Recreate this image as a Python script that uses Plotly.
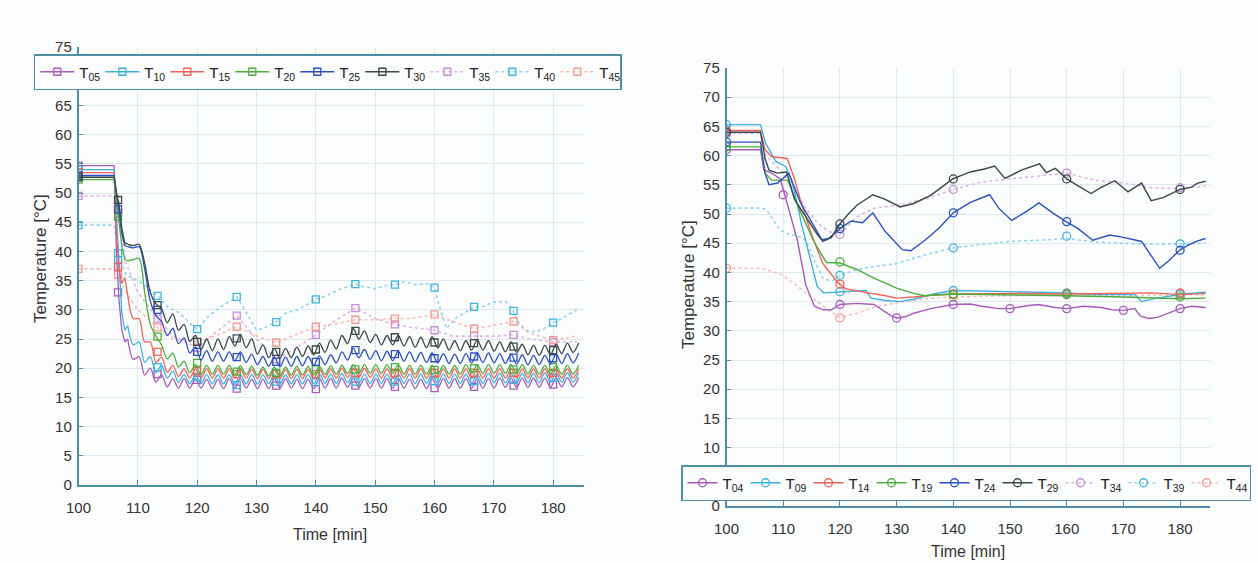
import plotly.graph_objects as go

# ======================= DATA =======================
# ---------- Left panel: sensors T05 ... T45 ----------
left_time = [100, 106.0, 106.4, 106.8, 107.3, 107.8,
             108.3, 109.25, 110.2, 111.15, 112.1, 113.05, 114.0, 114.95, 115.9, 116.85,
             117.8, 118.75, 119.7, 120.65, 121.6, 122.55, 123.5, 124.45, 125.4, 126.35,
             127.3, 128.25, 129.2, 130.15, 131.1, 132.05, 133.0, 133.95, 134.9, 135.85,
             136.8, 137.75, 138.7, 139.65, 140.6, 141.55, 142.5, 143.45, 144.4, 145.35,
             146.3, 147.25, 148.2, 149.15, 150.1, 151.05, 152.0, 152.95, 153.9, 154.85,
             155.8, 156.75, 157.7, 158.65, 159.6, 160.55, 161.5, 162.45, 163.4, 164.35,
             165.3, 166.25, 167.2, 168.15, 169.1, 170.05, 171.0, 171.95, 172.9, 173.85,
             174.8, 175.75, 176.7, 177.65, 178.6, 179.55, 180.5, 181.45, 182.4, 183.35,
             184.3]

T05 = [54.7, 54.7, 40.0, 32.0, 26.5, 24.5,
       25.0, 21.5, 22.0, 18.8, 20.0, 17.6, 18.9, 16.8, 18.2, 16.6,
       18.2, 16.6, 18.2, 16.6, 18.1, 16.5, 18.1, 16.5, 18.2, 16.6,
       18.2, 16.6, 18.1, 16.5, 18.1, 16.5, 18.2, 16.6, 18.2, 16.6,
       18.1, 16.5, 18.1, 16.5, 18.2, 16.6, 18.2, 16.6, 18.3, 16.7,
       18.3, 16.7, 18.2, 16.6, 18.2, 16.6, 18.2, 16.6, 18.2, 16.6,
       18.1, 16.5, 18.1, 16.5, 18.2, 16.6, 18.2, 16.6, 18.2, 16.6,
       18.2, 16.6, 18.2, 16.6, 18.2, 16.6, 18.3, 16.7, 18.3, 16.7,
       18.3, 16.7, 18.3, 16.7, 18.3, 16.7, 18.4, 16.8, 18.4, 16.8,
       18.4]

T10 = [54.0, 54.0, 46.0, 38.5, 29.5, 26.5,
       27.3, 24.0, 24.5, 21.0, 22.0, 19.2, 20.5, 18.3, 19.5, 17.6,
       18.9, 17.3, 18.9, 17.3, 18.9, 17.3, 18.9, 17.3, 18.9, 17.3,
       18.9, 17.3, 18.9, 17.3, 18.9, 17.3, 18.9, 17.3, 18.9, 17.3,
       18.9, 17.3, 18.9, 17.3, 19.0, 17.4, 19.0, 17.4, 19.1, 17.5,
       19.1, 17.5, 19.0, 17.4, 19.0, 17.4, 19.0, 17.4, 19.0, 17.4,
       19.0, 17.4, 19.0, 17.4, 19.0, 17.4, 19.0, 17.4, 19.0, 17.4,
       19.0, 17.4, 19.0, 17.4, 19.1, 17.5, 19.1, 17.5, 19.1, 17.5,
       19.1, 17.5, 19.1, 17.5, 19.2, 17.6, 19.2, 17.6, 19.2, 17.6,
       19.2]

T15 = [53.5, 53.5, 43.0, 37.2, 34.5, 35.5,
       32.5, 28.5, 28.5, 24.5, 24.5, 21.0, 21.9, 19.3, 20.5, 18.6,
       19.9, 18.3, 19.9, 18.3, 19.9, 18.3, 19.9, 18.3, 19.9, 18.3,
       19.9, 18.3, 19.8, 18.2, 19.8, 18.2, 19.8, 18.2, 19.8, 18.2,
       19.8, 18.2, 19.8, 18.2, 19.9, 18.3, 19.9, 18.3, 20.0, 18.4,
       20.0, 18.4, 20.0, 18.4, 19.9, 18.3, 19.9, 18.3, 19.9, 18.3,
       19.9, 18.3, 19.9, 18.3, 19.9, 18.3, 19.9, 18.3, 19.9, 18.3,
       19.9, 18.3, 19.9, 18.3, 19.9, 18.3, 19.9, 18.3, 19.9, 18.3,
       19.9, 18.3, 19.9, 18.3, 19.9, 18.3, 19.9, 18.3, 19.9, 18.3,
       19.9]

T20 = [52.3, 52.3, 48.5, 45.5, 41.0, 38.6,
       38.4, 38.6, 38.8, 33.0, 27.5, 25.5, 24.0, 21.6, 22.6, 20.2,
       21.2, 19.2, 20.6, 19.0, 20.5, 19.0, 20.5, 19.0, 20.5, 19.0,
       20.4, 18.9, 20.3, 18.8, 20.2, 18.7, 20.2, 18.7, 20.2, 18.8,
       20.3, 18.8, 20.3, 18.8, 20.3, 18.9, 20.4, 19.0, 20.5, 19.1,
       20.6, 19.1, 20.6, 19.1, 20.6, 19.1, 20.6, 19.1, 20.6, 19.0,
       20.5, 19.0, 20.5, 19.0, 20.5, 19.0, 20.5, 19.0, 20.5, 19.0,
       20.6, 19.1, 20.6, 19.1, 20.6, 19.1, 20.6, 19.1, 20.6, 19.1,
       20.6, 19.0, 20.5, 19.0, 20.5, 19.0, 20.5, 19.0, 20.5, 19.0,
       20.5]

T25 = [53.0, 53.0, 50.0, 47.2, 43.0, 41.0,
       40.8, 40.6, 40.8, 37.0, 31.5, 29.0, 28.0, 25.6, 26.8, 24.2,
       25.2, 22.6, 23.6, 21.4, 23.0, 21.2, 22.8, 21.2, 22.8, 21.3,
       22.8, 21.0, 22.4, 20.6, 22.0, 20.3, 21.9, 20.2, 21.9, 20.3,
       22.0, 20.4, 22.0, 20.5, 22.1, 20.6, 22.3, 20.9, 22.8, 21.4,
       23.4, 21.8, 23.2, 21.5, 23.0, 21.3, 22.9, 21.3, 22.9, 21.2,
       22.8, 21.1, 22.7, 21.0, 22.6, 20.9, 22.5, 20.8, 22.4, 20.8,
       22.5, 20.9, 22.6, 21.0, 22.6, 20.9, 22.5, 20.8, 22.4, 20.7,
       22.3, 20.6, 22.2, 20.6, 22.2, 20.7, 22.4, 20.8, 22.5, 20.9,
       22.6]

T30 = [52.7, 52.7, 50.0, 48.3, 44.0, 41.5,
       41.2, 41.0, 41.2, 38.0, 33.0, 31.0, 30.2, 27.8, 29.3, 26.5,
       27.5, 24.6, 25.6, 23.2, 25.0, 23.0, 25.0, 23.2, 25.4, 23.8,
       25.8, 23.5, 25.0, 22.4, 24.0, 21.8, 23.4, 21.7, 23.4, 21.8,
       23.6, 22.0, 23.8, 22.3, 24.3, 22.7, 24.8, 23.3, 25.6, 24.2,
       26.8, 25.0, 26.4, 24.4, 25.8, 24.0, 25.6, 24.0, 25.6, 23.8,
       25.4, 23.6, 25.3, 23.5, 25.4, 23.5, 25.0, 23.1, 24.7, 23.0,
       24.7, 23.1, 24.9, 23.1, 24.7, 22.9, 24.5, 22.8, 24.5, 22.7,
       24.1, 22.3, 23.9, 22.2, 23.9, 22.3, 24.1, 22.5, 24.3, 22.7,
       24.3]

T35_time = [100, 106, 106.7, 108, 110, 113.3, 116, 120, 123, 126.7, 130, 133.3, 136,
            140, 143, 146.7, 150, 153.3, 156, 160, 163, 166.7, 170, 173.3, 176, 180, 184]
T35 = [49.5, 49.5, 46.5, 38.0, 33.0, 28.5, 25.5, 23.5, 26.0, 29.0, 25.0, 21.5, 23.0,
       25.7, 28.0, 30.3, 28.5, 27.5, 27.0, 26.5, 25.5, 25.5, 25.5, 25.7, 25.0, 24.5, 24.5]

T40_time = [100, 106, 106.7, 108, 110, 111.5, 113.3, 115, 117, 119, 120, 122, 124, 126.7,
            128, 130, 131.5, 133.3, 135, 137, 140, 142, 144, 146.7, 148, 150, 152, 153.3,
            155, 157, 159, 160, 161, 162, 163.5, 165, 166.7, 168, 170, 172, 173.3, 174,
            175.5, 177, 178.5, 180, 182, 184]
T40 = [44.5, 44.5, 39.7, 36.0, 35.0, 34.0, 32.4, 30.5, 29.5, 27.5, 26.7, 29.0, 30.5, 32.2,
       30.0, 26.5, 27.0, 27.9, 29.5, 30.0, 31.8, 32.5, 33.5, 34.4, 34.0, 33.6, 34.2, 34.3,
       34.8, 34.3, 34.5, 33.8, 30.0, 26.8, 28.5, 29.5, 30.5, 30.5, 31.3, 31.4, 29.8, 28.0,
       26.5, 26.2, 26.8, 27.8, 28.8, 30.0]

T45_time = [100, 106, 108, 110, 113.3, 116, 120, 123, 126.7, 130, 133.3, 136, 140, 143,
            146.7, 150, 153.3, 156, 160, 163, 166.7, 170, 173.3, 176, 180, 184]
T45 = [37.0, 37.0, 33.0, 30.0, 27.0, 25.0, 24.5, 25.5, 27.1, 25.5, 24.4, 25.5, 27.1, 27.5,
       28.3, 28.3, 28.5, 28.5, 29.2, 28.0, 26.8, 27.3, 28.0, 26.0, 24.8, 25.5]

# square markers (every 20/3 min)
left_mark_time = [100, 106.67, 113.33, 120, 126.67, 133.33, 140, 146.67, 153.33, 160,
                  166.67, 173.33, 180]
M05 = [54.7, 33.0, 19.0, 18.0, 16.5, 17.0, 16.4, 17.0, 16.8, 16.6, 16.8, 17.0, 17.2]
M10 = [54.0, 38.5, 20.2, 18.5, 17.1, 17.7, 17.6, 17.7, 17.7, 17.8, 17.8, 18.0, 18.3]
M15 = [53.5, 37.4, 22.8, 19.5, 19.0, 19.0, 19.0, 19.2, 19.2, 19.2, 19.2, 19.2, 19.2]
M20 = [52.3, 45.9, 25.4, 20.9, 19.4, 19.2, 19.8, 19.8, 20.2, 19.7, 20.0, 19.8, 20.2]
M25 = [53.0, 47.2, 30.0, 22.8, 21.9, 21.1, 21.1, 23.1, 22.4, 21.7, 22.0, 21.8, 21.7]
M30 = [52.7, 48.8, 30.8, 24.5, 25.1, 22.8, 23.2, 26.4, 25.3, 24.4, 24.3, 23.7, 23.1]
M35 = [49.5, 46.5, 28.5, 23.5, 29.0, 21.5, 25.7, 30.3, 27.5, 26.5, 25.5, 25.7, 24.5]
M40 = [44.5, 39.7, 32.4, 26.7, 32.2, 27.9, 31.8, 34.4, 34.3, 33.8, 30.5, 29.8, 27.8]
M45 = [37.0, 36.0, 27.0, 24.5, 27.1, 24.4, 27.1, 28.3, 28.5, 29.2, 26.8, 28.0, 24.8]

# ---------- Right panel: sensors T04 ... T44 ----------
T04_time = [100, 106, 106.6, 108, 109.5, 110.3, 111.5, 112.5, 114, 115.5, 117, 118.5, 120,
            123, 126, 127.5, 129, 130, 131.5, 133, 136, 140, 143, 145, 148, 150, 153, 155,
            158, 160, 163, 166, 168, 170, 172, 173, 174.5, 176, 178, 180, 182, 184.5]
T04 = [61.0, 61.0, 57.5, 57.0, 56.0, 53.3, 49.0, 45.5, 37.8, 34.2, 33.6, 33.6, 34.5,
       34.7, 34.5, 33.6, 32.6, 32.2, 32.4, 33.0, 33.8, 34.5, 34.6, 34.2, 33.8, 33.8, 34.3,
       34.5, 34.0, 33.8, 34.2, 34.0, 33.6, 33.5, 33.8, 32.5, 32.1, 32.3, 33.0, 33.8, 34.2,
       34.0]

T09_time = [100, 106, 106.9, 108.7, 110.5, 111.8, 113.3, 114.8, 116, 117.1, 120, 124.6,
            125.5, 128, 130.5, 133, 136.5, 140, 150, 160, 165, 172, 173.2, 175.9, 180.6,
            184.5]
T09 = [65.3, 65.3, 62.1, 59.0, 58.1, 54.7, 48.0, 42.1, 37.6, 36.5, 36.7, 36.9, 35.6, 35.2,
       35.0, 35.4, 36.3, 36.9, 36.7, 36.5, 36.2, 36.2, 35.0, 35.6, 36.3, 36.6]

T14_time = [100, 106, 106.8, 108, 110.7, 112, 113, 115, 117, 119.7, 121, 123, 125, 128,
            130, 133, 136, 140, 150, 160, 170, 175, 180, 184.5]
T14 = [64.3, 64.3, 61.0, 59.8, 59.5, 56.0, 52.5, 46.5, 41.5, 38.2, 37.2, 36.8, 36.5, 36.0,
       35.6, 35.8, 36.1, 36.3, 36.4, 36.3, 36.4, 36.5, 36.2, 36.4]

T19_time = [100, 106, 106.8, 108, 110.8, 112.9, 115.3, 117.6, 120, 123, 126, 130, 133, 135,
            140, 150, 160, 170, 176, 180, 184.5]
T19 = [61.5, 61.5, 57.0, 55.8, 55.8, 50.7, 45.5, 41.7, 41.6, 40.5, 39.0, 37.3, 36.4, 36.0,
       36.3, 36.2, 36.0, 35.8, 35.6, 35.5, 35.6]

T24_time = [100, 106, 106.8, 107.5, 109, 110.3, 111, 113, 115, 116.8, 118, 120, 122, 124,
            125.8, 128, 131, 132.5, 135, 137.5, 140, 143, 146.4, 148, 150.3, 153, 155.1,
            157.5, 159.9, 162, 164.6, 167.6, 170, 173.2, 176.4, 178, 179.9, 181.5, 183.1,
            184.5]
T24 = [62.3, 62.3, 57.0, 55.0, 55.3, 56.5, 57.0, 52.0, 48.5, 45.6, 45.8, 47.5, 48.8, 48.5,
       50.2, 47.0, 43.9, 43.7, 45.5, 47.6, 50.2, 52.0, 53.3, 51.0, 48.9, 50.5, 51.9, 50.2,
       48.7, 47.5, 45.5, 46.4, 46.0, 45.3, 40.7, 42.0, 43.8, 44.7, 45.4, 45.8]

T29_time = [100, 106, 106.8, 107.5, 109, 110.6, 112, 114, 116, 117, 118.5, 120, 121.5, 123,
            125.8, 128, 130.6, 133, 136, 139.9, 143, 145.5, 147.3, 149.1, 152, 155.2, 156.4,
            158, 160, 162, 164.3, 166, 168.5, 170.8, 173.2, 174.9, 177, 180, 182, 183.1,
            184.5]
T29 = [64.0, 64.0, 59.5, 57.5, 57.0, 57.2, 52.5, 49.5, 46.5, 45.3, 46.0, 48.3, 50.0, 51.5,
       53.3, 52.5, 51.2, 51.8, 53.2, 56.0, 57.2, 57.7, 58.2, 56.1, 57.5, 58.6, 57.1, 57.8,
       56.0, 54.8, 53.5, 54.5, 55.7, 53.8, 55.3, 52.3, 52.8, 54.2, 54.6, 55.3, 55.6]

T34_time = [100, 106, 107, 110, 112, 114, 116, 118, 120, 123, 126, 130, 135, 140, 145, 150,
            155, 160, 165, 170, 175, 180, 184.5]
T34 = [63.8, 63.8, 60.0, 57.0, 54.0, 51.0, 48.5, 47.0, 46.5, 49.5, 51.0, 51.5, 52.5, 54.2,
       55.5, 56.0, 56.5, 57.0, 55.8, 55.3, 54.5, 54.3, 54.8]

T39_time = [100, 106, 107, 109.4, 111, 112.5, 114, 115.5, 117, 118.5, 120, 123, 126, 130,
            135, 140, 145, 150, 155, 160, 165, 170, 175, 180, 184.5]
T39 = [51.0, 51.0, 50.8, 47.3, 46.5, 46.3, 45.5, 42.0, 39.0, 38.5, 39.5, 40.5, 41.0, 41.5,
       43.0, 44.2, 44.8, 45.3, 45.5, 45.8, 45.2, 45.0, 44.8, 44.9, 45.0]

T44_time = [100, 106, 108, 110, 112, 114, 116, 118, 120, 123, 126, 130, 135, 140, 150, 160,
            170, 180, 184.5]
T44 = [40.7, 40.7, 40.2, 39.5, 38.0, 36.5, 35.0, 33.5, 32.3, 33.0, 34.0, 34.8, 35.5, 35.8,
       36.0, 36.2, 36.0, 36.2, 36.2]

# circle markers
right_mark_time_10 = [100, 110, 120, 130, 140, 150, 160, 170, 180]
right_mark_time_20 = [100, 120, 140, 160, 180]
N04 = [61.0, 53.3, 34.5, 32.2, 34.5, 33.8, 33.8, 33.5, 33.8]
N09 = [65.3, 36.7, 36.9, 36.5, 36.2]
N14 = [64.3, 38.0, 36.3, 36.3, 36.5]
N19 = [61.5, 41.8, 36.2, 36.2, 35.8]
N24 = [62.3, 47.5, 50.2, 48.7, 43.8]
N29 = [64.0, 48.3, 56.0, 56.0, 54.2]
N34 = [63.8, 46.5, 54.2, 57.0, 54.5]
N39 = [51.0, 39.5, 44.2, 46.2, 44.9]
N44 = [40.7, 32.2, 35.8, 36.4, 36.4]

y_ticks = list(range(0, 80, 5))
x_ticks = list(range(100, 190, 10))

# ======================= STYLE =======================
W, H = 1258, 563
FONT = "Liberation Sans, Arial, Helvetica, sans-serif"
BG = "#fbfcfc"
AXIS = "#4f8dab"
GRID = "#dde9ef"
TXT = "#333333"

PURPLE, CYAN, RED, GREEN, BLUE, BLACK = "#a55cbb", "#3db2de", "#f0625a", "#4cae3e", "#2d4fc4", "#3a4848"
F_PURPLE_L, F_CYAN_L, F_RED_L = "#dcb6e6", "#8fd4ee", "#f8bcb6"
F_PURPLE_M, F_CYAN_M, F_RED_M = "#c58fd6", "#3fb4e0", "#f49a92"
OSC_START = 6  # index in left_time where the oscillating regime starts

fig = go.Figure()


def add_legend_entry(name, line_col, mark_col, symbol, msize, dash, lw, xa, ya, legend_id):
    fig.add_trace(go.Scatter(
        x=[None], y=[None], mode="lines+markers", name=name,
        line=dict(color=line_col, width=lw, dash=dash),
        marker=dict(symbol=symbol, size=msize, color=mark_col,
                    line=dict(color=mark_col, width=1.3)),
        xaxis=xa, yaxis=ya, legend=legend_id, showlegend=True, hoverinfo="skip"))


def add_line(x, y, col, dash, lw, shape, xa, ya):
    fig.add_trace(go.Scatter(
        x=x, y=y, mode="lines",
        line=dict(color=col, width=lw, dash=dash, shape=shape,
                  **({"smoothing": 0.9} if shape == "spline" else {})),
        xaxis=xa, yaxis=ya, showlegend=False, hoverinfo="skip"))


def add_marks(mx, my, col, symbol, msize, xa, ya):
    fig.add_trace(go.Scatter(
        x=mx, y=my, mode="markers",
        marker=dict(symbol=symbol, size=msize, color=col, line=dict(color=col, width=1.3)),
        xaxis=xa, yaxis=ya, showlegend=False, hoverinfo="skip"))


left_series = [
    ("T<sub>05</sub>", left_time, T05, M05, PURPLE, PURPLE, "solid", 1.3),
    ("T<sub>10</sub>", left_time, T10, M10, CYAN, CYAN, "solid", 1.3),
    ("T<sub>15</sub>", left_time, T15, M15, RED, RED, "solid", 1.3),
    ("T<sub>20</sub>", left_time, T20, M20, GREEN, GREEN, "solid", 1.3),
    ("T<sub>25</sub>", left_time, T25, M25, BLUE, BLUE, "solid", 1.3),
    ("T<sub>30</sub>", left_time, T30, M30, BLACK, BLACK, "solid", 1.3),
    ("T<sub>35</sub>", T35_time, T35, M35, F_PURPLE_L, F_PURPLE_M, "dot", 1.6),
    ("T<sub>40</sub>", T40_time, T40, M40, F_CYAN_L, F_CYAN_M, "dot", 1.6),
    ("T<sub>45</sub>", T45_time, T45, M45, F_RED_L, F_RED_M, "dot", 1.6),
]

right_series = [
    ("T<sub>04</sub>", T04_time, T04, right_mark_time_10, N04, PURPLE, PURPLE, "solid", 1.4),
    ("T<sub>09</sub>", T09_time, T09, right_mark_time_20, N09, CYAN, CYAN, "solid", 1.4),
    ("T<sub>14</sub>", T14_time, T14, right_mark_time_20, N14, RED, RED, "solid", 1.4),
    ("T<sub>19</sub>", T19_time, T19, right_mark_time_20, N19, GREEN, GREEN, "solid", 1.4),
    ("T<sub>24</sub>", T24_time, T24, right_mark_time_20, N24, BLUE, BLUE, "solid", 1.4),
    ("T<sub>29</sub>", T29_time, T29, right_mark_time_20, N29, BLACK, BLACK, "solid", 1.4),
    ("T<sub>34</sub>", T34_time, T34, right_mark_time_20, N34, F_PURPLE_L, F_PURPLE_M, "dot", 1.6),
    ("T<sub>39</sub>", T39_time, T39, right_mark_time_20, N39, F_CYAN_L, F_CYAN_M, "dot", 1.6),
    ("T<sub>44</sub>", T44_time, T44, right_mark_time_20, N44, F_RED_L, F_RED_M, "dot", 1.6),
]

# legend entries first (keeps legend order)
for name, x, y, my, lc, mc, dash, lw in left_series:
    add_legend_entry(name, lc, mc, "square-open", 7, dash, lw, "x", "y", "legend")
for name, x, y, mx, my, lc, mc, dash, lw in right_series:
    add_legend_entry(name, lc, mc, "circle-open", 8, dash, lw, "x2", "y2", "legend2")

# left data: faint series beneath the solid ones
for name, x, y, my, lc, mc, dash, lw in left_series[6:]:
    add_line(x, y, lc, dash, lw, "linear", "x", "y")
    add_marks(left_mark_time, my, mc, "square-open", 7, "x", "y")
for name, x, y, my, lc, mc, dash, lw in left_series[:6]:
    add_line(x[:OSC_START + 1], y[:OSC_START + 1], lc, dash, lw, "linear", "x", "y")
    add_line(x[OSC_START:], y[OSC_START:], lc, dash, lw, "spline", "x", "y")
    add_marks(left_mark_time, my, mc, "square-open", 7, "x", "y")

# right data
for name, x, y, mx, my, lc, mc, dash, lw in right_series[6:] + right_series[:6]:
    add_line(x, y, lc, dash, lw, "linear", "x2", "y2")
    add_marks(mx, my, mc, "circle-open", 8, "x2", "y2")

axis_common = dict(showline=True, linecolor=AXIS, linewidth=1.5, ticks="inside",
                   ticklen=5, tickcolor=AXIS, tickwidth=1, showgrid=True, gridcolor=GRID,
                   gridwidth=1, zeroline=False, tickfont=dict(size=15, color=TXT, family=FONT))

fig.update_layout(
    width=W, height=H,
    margin=dict(l=0, r=0, t=0, b=0, autoexpand=False),
    paper_bgcolor=BG, plot_bgcolor=BG,
    font=dict(family=FONT, size=15, color=TXT),
    xaxis=dict(domain=[78.5 / W, 584 / W], range=[100, 185.2], tickvals=x_ticks,
               anchor="y", ticklabelstandoff=8, **axis_common),
    yaxis=dict(domain=[1 - 485 / H, 1 - 47 / H], range=[0, 75], tickvals=y_ticks,
               anchor="x", ticklabelstandoff=2, **axis_common),
    xaxis2=dict(domain=[726.5 / W, 1209.6 / W], range=[100, 185.2], tickvals=x_ticks,
                anchor="y2", ticklabelstandoff=8, **axis_common),
    yaxis2=dict(domain=[1 - 506 / H, 1 - 68 / H], range=[0, 75], tickvals=y_ticks,
                anchor="x2", ticklabelstandoff=2, **axis_common),
    legend=dict(x=33.8 / W, y=1 - 54 / H, xanchor="left", yanchor="top",
                orientation="h", bgcolor=BG, bordercolor=AXIS, borderwidth=1.5,
                font=dict(size=15, color="#222222", family=FONT),
                entrywidth=16, entrywidthmode="pixels", itemwidth=34),
    legend2=dict(x=681 / W, y=1 - 465 / H, xanchor="left", yanchor="top",
                 orientation="h", bgcolor=BG, bordercolor=AXIS, borderwidth=1.5,
                 font=dict(size=15, color="#222222", family=FONT),
                 entrywidth=18, entrywidthmode="pixels", itemwidth=30),
    showlegend=True,
    annotations=[
        dict(text="Temperature [°C]", x=40 / W, y=1 - 259 / H, xref="paper", yref="paper",
             textangle=-90, showarrow=False, xanchor="center", yanchor="middle",
             font=dict(size=17, color=TXT, family=FONT)),
        dict(text="Temperature [°C]", x=688 / W, y=1 - 285 / H, xref="paper", yref="paper",
             textangle=-90, showarrow=False, xanchor="center", yanchor="middle",
             font=dict(size=17, color=TXT, family=FONT)),
        dict(text="Time [min]", x=330 / W, y=1 - 534 / H, xref="paper", yref="paper",
             showarrow=False, xanchor="center", yanchor="middle",
             font=dict(size=16, color=TXT, family=FONT)),
        dict(text="Time [min]", x=968 / W, y=1 - 551 / H, xref="paper", yref="paper",
             showarrow=False, xanchor="center", yanchor="middle",
             font=dict(size=16, color=TXT, family=FONT)),
    ],
)

fig.write_html("out.html")
